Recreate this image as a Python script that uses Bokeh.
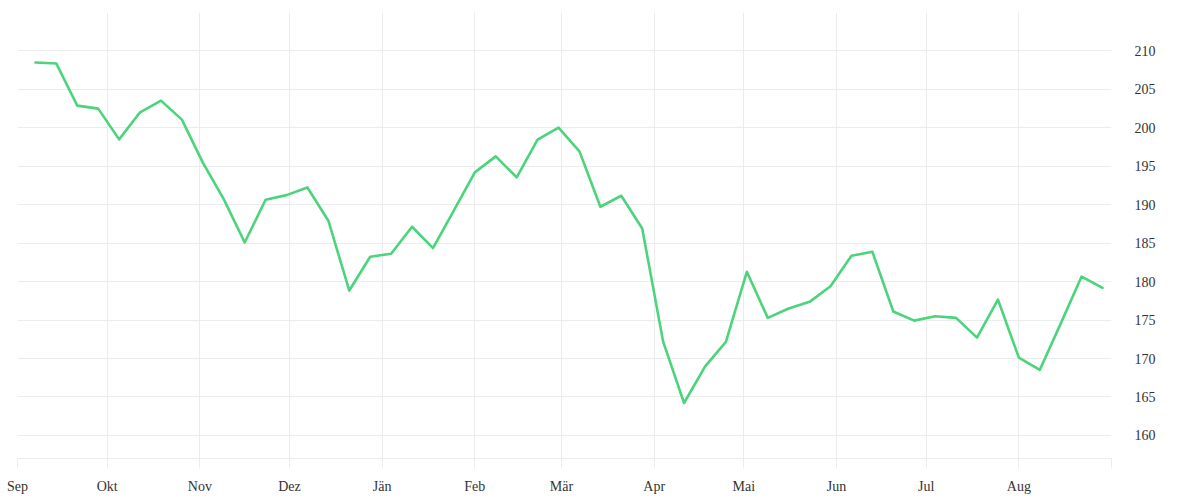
from datetime import datetime, timedelta
from bokeh.plotting import figure
from bokeh.models import (ColumnDataSource, FixedTicker, CustomJSTickFormatter,
                          LinearAxis, Range1d, Grid)
from bokeh.embed import file_html
from bokeh.resources import INLINE

# ---- data ----
start_date = datetime(2023, 9, 7)
values = [208.49, 208.36, 202.89, 202.50, 198.50, 202.02, 203.54, 201.07,
          195.47, 190.73, 185.09, 190.65, 191.25, 192.25, 187.92, 178.84,
          183.23, 183.62, 187.14, 184.35, 189.26, 194.21, 196.29, 193.55,
          198.46, 200.03, 196.94, 189.74, 191.17, 186.91, 172.20, 164.22,
          168.95, 172.16, 181.28, 175.29, 176.50, 177.37, 179.40, 183.36,
          183.88, 176.11, 174.93, 175.50, 175.29, 172.72, 177.67, 170.12,
          168.52, 174.54, 180.66, 179.19]
dates = [start_date + timedelta(days=7 * i) for i in range(len(values))]

month_starts = [datetime(2023, 9, 1), datetime(2023, 10, 1), datetime(2023, 11, 1),
                datetime(2023, 12, 1), datetime(2024, 1, 1), datetime(2024, 2, 1),
                datetime(2024, 3, 1), datetime(2024, 4, 1), datetime(2024, 5, 1),
                datetime(2024, 6, 1), datetime(2024, 7, 1), datetime(2024, 8, 1),
                datetime(2024, 9, 1)]
month_labels = ["Sep", "Okt", "Nov", "Dez", "Jän", "Feb", "Mär", "Apr",
                "Mai", "Jun", "Jul", "Aug", ""]
y_ticks = [160, 165, 170, 175, 180, 185, 190, 195, 200, 205, 210]

EPOCH = datetime(1970, 1, 1)
def ms(d):
    return (d - EPOCH).total_seconds() * 1000.0

tick_ms = [ms(d) for d in month_starts]

src = ColumnDataSource(dict(x=[ms(d) for d in dates], y=values))

FONT = "Liberation Serif"
GRID = "#ececec"

p = figure(frame_width=1094, frame_height=446,
           x_range=Range1d(ms(datetime(2023, 9, 1)), ms(datetime(2024, 9, 1))),
           y_range=Range1d(157, 215),
           output_backend="svg", toolbar_location=None,
           y_axis_location=None, x_axis_type=None,
           min_border_left=17, min_border_top=12, min_border_right=5,
           min_border_bottom=0, outline_line_color=None,
           background_fill_color="white", border_fill_color="white")

xaxis = LinearAxis(ticker=FixedTicker(ticks=tick_ms, minor_ticks=[]),
                   formatter=CustomJSTickFormatter(
                       args=dict(tvals=tick_ms, tlabels=month_labels),
                       code="const i = tvals.indexOf(tick); return i >= 0 ? tlabels[i] : '';"))
xaxis.axis_line_color = GRID
xaxis.major_tick_line_color = GRID
xaxis.major_tick_in = 0
xaxis.major_tick_out = 10
xaxis.minor_tick_line_color = None
xaxis.major_label_standoff = 10
xaxis.major_label_text_font = FONT
xaxis.major_label_text_font_size = "14px"
xaxis.major_label_text_color = "#333333"
p.add_layout(xaxis, "below")

yaxis = LinearAxis(ticker=FixedTicker(ticks=y_ticks, minor_ticks=[]))
yaxis.axis_line_color = None
yaxis.major_tick_line_color = None
yaxis.minor_tick_line_color = None
yaxis.major_tick_in = 0
yaxis.major_tick_out = 0
yaxis.major_label_standoff = 23
yaxis.major_label_text_font = FONT
yaxis.major_label_text_font_size = "14px"
yaxis.major_label_text_color = "#333333"
p.add_layout(yaxis, "right")

# remove any default grids and add our own
p.renderers = [r for r in p.renderers]
p.center = [c for c in p.center if not isinstance(c, Grid)]
p.add_layout(Grid(dimension=0, ticker=xaxis.ticker, grid_line_color=GRID,
                  grid_line_width=1))
p.add_layout(Grid(dimension=1, ticker=yaxis.ticker, grid_line_color=GRID,
                  grid_line_width=1))

p.line("x", "y", source=src, line_color="#4cd47c", line_width=2.6,
       line_join="round", line_cap="round")

open("out.html", "w").write(file_html(p, INLINE))
